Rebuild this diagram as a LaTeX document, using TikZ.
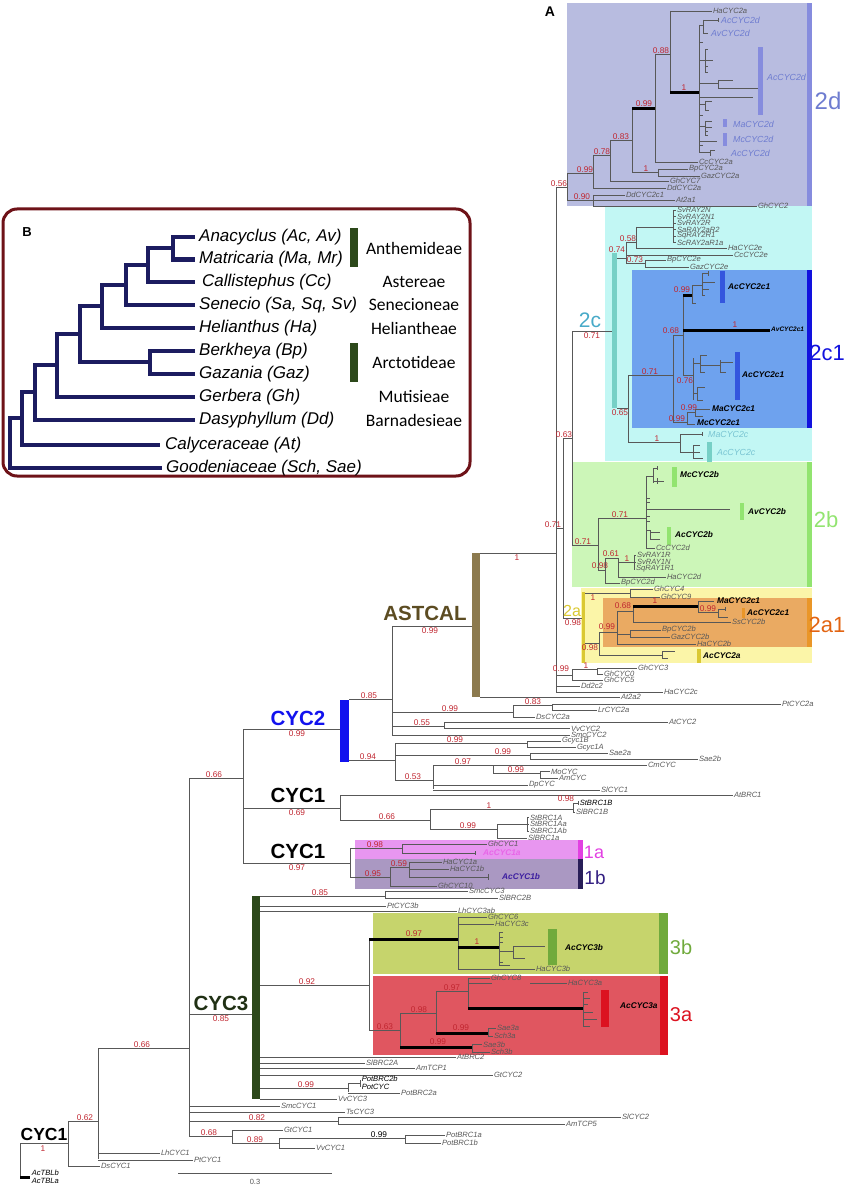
\documentclass[tikz,border=0pt]{standalone}
\usepackage{fontspec}
\setmainfont{Liberation Sans}
\newfontfamily\tribefont{Carlito}

\definecolor{ppred}{RGB}{192,38,48}
\definecolor{brgray}{RGB}{88,88,88}
\definecolor{c2d}{RGB}{184,188,224}
\definecolor{c2dbar}{RGB}{134,140,222}
\definecolor{c2dtext}{RGB}{110,124,208}
\definecolor{c2c}{RGB}{194,247,244}
\definecolor{c2cbar}{RGB}{118,208,198}
\definecolor{c2ctext}{RGB}{72,170,200}
\definecolor{c2cleaf}{RGB}{120,196,210}
\definecolor{c2ca}{RGB}{110,162,238}
\definecolor{c2cabar}{RGB}{18,18,222}
\definecolor{c2cinner}{RGB}{52,86,222}
\definecolor{c2b}{RGB}{204,246,184}
\definecolor{c2bbar}{RGB}{146,228,112}
\definecolor{c2a}{RGB}{251,245,168}
\definecolor{c2abar}{RGB}{218,200,50}
\definecolor{c2aa}{RGB}{234,170,98}
\definecolor{c2aabar}{RGB}{234,150,40}
\definecolor{c2aatext}{RGB}{226,100,18}
\definecolor{c1a}{RGB}{232,150,240}
\definecolor{c1abar}{RGB}{226,64,226}
\definecolor{c1b}{RGB}{170,152,194}
\definecolor{c1bbar}{RGB}{40,30,88}
\definecolor{c1btext}{RGB}{52,32,130}
\definecolor{c1bleaf}{RGB}{60,30,160}
\definecolor{c3b}{RGB}{198,212,108}
\definecolor{c3bbar}{RGB}{112,170,60}
\definecolor{c3a}{RGB}{224,86,96}
\definecolor{c3abar}{RGB}{220,18,32}
\definecolor{castcal}{RGB}{140,122,78}
\definecolor{castcaltext}{RGB}{92,76,34}
\definecolor{ccyc2}{RGB}{18,18,238}
\definecolor{ccyc3}{RGB}{44,72,26}
\definecolor{ccyc3text}{RGB}{32,48,20}
\definecolor{navy}{RGB}{28,28,96}
\definecolor{frame}{RGB}{110,18,24}

\tikzset{
    br/.style = {brgray, line width = 0.8pt},
    thk/.style = {black, line width = 3pt},
    leaf/.style = {anchor = west, inner sep = 0.6pt, font = \fontsize{7.6}{7}\selectfont\itshape},
    grp/.style = {anchor = west, inner sep = 0pt, font = \fontsize{8.3}{8}\selectfont\bfseries\itshape},
    grpl/.style = {anchor = west, inner sep = 0pt, font = \fontsize{8.8}{8}\selectfont\itshape},
    pp/.style = {text = ppred, inner sep = 0.6pt, font = \fontsize{8.3}{8}\selectfont},
    big/.style = {inner sep = 0pt, font = \fontsize{22}{22}\selectfont},
    clade/.style = {inner sep = 0pt, font = \fontsize{20.5}{21}\selectfont\bfseries},
    itree/.style = {navy, line width = 4.5pt},
    sp/.style = {anchor = west, inner sep = 0pt, font = \fontsize{17}{17}\selectfont\itshape},
    tribe/.style = {inner sep = 0pt, font = \fontsize{17.5}{18}\selectfont\tribefont},
}

\newcommand{\hbr}[3]{\draw [br] (#1, #3) -- (#2, #3);}
\newcommand{\vbr}[3]{\draw [br] (#1, #2) -- (#1, #3);}
\newcommand{\tbr}[3]{\draw [thk] (#1, #3) -- (#2, #3);}
\newcommand{\lfx}[4]{\draw [br] (#1, #3) -- (#2, #3) node [leaf] {#4};}
\newcommand{\pp}[3]{\node [pp, anchor = south] at (#1, #2) {#3};}
\newcommand{\ppb}[3]{\node [pp, anchor = north] at (#1, #2) {#3};}
\newcommand{\gbar}[5]{\fill [#1] (#2, #3) rectangle (#4, #5);}

\begin{document}
\begin{tikzpicture}[x = 1pt, y = -1pt]
    \useasboundingbox (0, 0) rectangle (844, 1190);

    % clade boxes
    \fill [c2d]  (567, 3)   rectangle (812, 206);
    \fill [c2c]  (605, 206) rectangle (812, 461);
    \fill [c2ca] (632, 270) rectangle (812, 428);
    \fill [c2b]  (572, 462) rectangle (812, 587);
    \fill [c2a]  (581, 588) rectangle (812, 663);
    \fill [c2aa] (603, 598) rectangle (812, 647);
    \fill [c1a]  (355, 840) rectangle (578, 859);
    \fill [c1b]  (355, 859) rectangle (578, 889);
    \fill [c3b]  (373, 913) rectangle (668, 974);
    \fill [c3a]  (373, 976) rectangle (668, 1055);

    % bars
    \gbar{c2dbar}{807}{3}{812}{206}
    \gbar{c2cabar}{807}{270}{812}{428}
    \gbar{c2bbar}{807}{462}{812}{587}
    \gbar{c2aabar}{807}{598}{812}{647}
    \gbar{c2cbar}{612}{253}{617}{408}
    \gbar{c2abar}{582}{592}{585}{663}
    \gbar{c1abar}{578}{840}{583}{859}
    \gbar{c1bbar}{578}{859}{583}{889}
    \gbar{c3bbar}{659}{913}{668}{974}
    \gbar{c3abar}{660}{976}{668}{1055}
    \gbar{castcal}{472}{553}{480}{697}
    \gbar{ccyc2}{340}{700}{349}{762}
    \gbar{ccyc3}{252}{896}{260}{1099}
    \gbar{c2dbar}{758}{47}{763}{115}
    \gbar{c2dbar}{723}{119}{727}{127}
    \gbar{c2dbar}{723}{133}{727}{146}
    \gbar{c2cinner}{720}{271}{725}{303}
    \gbar{c2cinner}{735}{352}{740}{400}
    \gbar{c2cbar}{707}{442}{712}{462}
    \gbar{c2bbar}{672}{467}{677}{487}
    \gbar{c2bbar}{740}{503}{744}{520}
    \gbar{c2bbar}{667}{527}{671}{545}
    \gbar{c2aabar}{742}{608}{745}{618}
    \gbar{c2abar}{697}{649}{701}{663}
    \gbar{c3bbar}{548}{929}{557}{965}
    \gbar{c3abar}{601}{990}{609}{1027}

    % root
    \vbr{20}{1143}{1177}
    \hbr{20}{68}{1143}
    \draw [thk] (20, 1177) -- (30, 1177);
    \node [leaf] at (31, 1173) {AcTBLb};
    \node [leaf] at (31, 1181) {AcTBLa};
    \ppb{43}{1145}{1}
    \node [clade, font = \fontsize{17.5}{18}\selectfont\bfseries] at (44, 1134) {CYC1};
    \vbr{68}{1121}{1166}
    \hbr{68}{98}{1121} \pp{85}{1121}{0.62}
    \lfx{68}{100}{1166}{DsCYC1}
    \vbr{98}{1048}{1159}
    \hbr{98}{189}{1048} \pp{142}{1048}{0.66}
    \lfx{98}{160}{1153}{LhCYC1}
    \lfx{98}{193}{1160}{PtCYC1}
    \vbr{189}{778}{1136}
    \hbr{189}{243}{778} \pp{214}{778}{0.66}
    \hbr{189}{252}{1014}
    \node [clade, text = ccyc3text] at (221, 1003) {CYC3};
    \ppb{221}{1015}{0.85}
    \lfx{189}{280}{1106}{SmcCYC1}
    \lfx{189}{345}{1112}{TsCYC3}
    \hbr{189}{338}{1121} \pp{257}{1121}{0.82}
    \vbr{338}{1117}{1124}
    \lfx{338}{621}{1117}{SlCYC2}
    \lfx{338}{565}{1124}{AmTCP5}
    \hbr{189}{232}{1136} \pp{209}{1136}{0.68}
    \vbr{232}{1130}{1143}
    \lfx{232}{283}{1130}{GtCYC1}
    \hbr{232}{279}{1143} \pp{255}{1143}{0.89}
    \vbr{279}{1138}{1148}
    \hbr{279}{405}{1138}
    \node [pp, anchor = south, text = black] at (379, 1138) {0.99};
    \vbr{405}{1135}{1143}
    \lfx{405}{445}{1135}{PotBRC1a}
    \lfx{405}{441}{1143}{PotBRC1b}
    \lfx{279}{315}{1148}{VvCYC1}
    \draw [br] (178, 1173) -- (332, 1173) node [midway, below = 3pt, font = \fontsize{7.5}{7}\selectfont] {0.3};

    % CYC3
    \hbr{260}{385}{896} \pp{320}{896}{0.85}
    \vbr{385}{892}{898}
    \lfx{385}{468}{891}{SmcCYC3}
    \lfx{385}{498}{898}{SlBRC2B}
    \lfx{260}{386}{906}{PtCYC3b}
    \lfx{260}{457}{911}{LhCYC3ab}
    \hbr{260}{369}{985} \pp{307}{985}{0.92}
    \vbr{369}{939}{1030}
    \tbr{369}{458}{939} \pp{414}{937}{0.97}
    \vbr{458}{917}{969}
    \lfx{458}{487}{917}{GhCYC6}
    \lfx{458}{494}{924}{HaCYC3c}
    \tbr{458}{499}{947} \pp{477}{945}{1}
    \vbr{499}{932}{965}
    \foreach \yy in {932, 937, 942, 962} {\hbr{499}{503}{\yy}}
    \hbr{499}{513}{951}
    \vbr{513}{946}{958}
    \hbr{513}{545}{946}
    \hbr{513}{525}{958}
    \hbr{499}{510}{965}
    \lfx{458}{535}{969}{HaCYC3b}
    \node [grp] at (565, 948) {AcCYC3b};
    \hbr{369}{400}{1030} \pp{385}{1030}{0.63}
    \vbr{400}{1013}{1047}
    \hbr{400}{436}{1013} \pp{419}{1013}{0.98}
    \vbr{436}{991}{1035}
    \hbr{436}{468}{991} \pp{452}{991}{0.97}
    \vbr{468}{978}{1008}
    \lfx{468}{490}{978}{GhCYC8}
    \lfx{530}{567}{983}{HaCYC3a}
    \hbr{468}{492}{983}
    \tbr{468}{583}{1008}
    \vbr{583}{992}{1026}
    \foreach \yy/\xx in {992/588, 998/590, 1004/588, 1012/593, 1019/597, 1026/590} {\hbr{583}{\xx}{\yy}}
    \node [grp] at (620, 1006) {AcCYC3a};
    \tbr{436}{488}{1033} \pp{461}{1031}{0.99}
    \vbr{488}{1028}{1036}
    \lfx{488}{496}{1028}{Sae3a}
    \lfx{488}{493}{1036}{Sch3a}
    \tbr{400}{472}{1047} \pp{438}{1045}{0.99}
    \vbr{472}{1044.5}{1052}
    \lfx{472}{482}{1044.5}{Sae3b}
    \lfx{472}{490}{1052}{Sch3b}
    \lfx{260}{456}{1057}{AtBRC2}
    \lfx{260}{365}{1063}{SlBRC2A}
    \lfx{260}{415}{1068}{AmTCP1}
    \lfx{260}{493}{1075}{GtCYC2}
    \hbr{260}{348}{1088} \pp{306}{1088}{0.99}
    \vbr{348}{1083}{1092}
    \hbr{348}{360}{1083}
    \vbr{360}{1080}{1087}
    \node [leaf] at (361, 1078.5) {PotBRC2b};
    \node [leaf] at (361, 1086.5) {PotCYC};
    \lfx{348}{400}{1093}{PotBRC2a}
    \lfx{260}{337}{1099}{VvCYC3}

    % CYC1 and CYC2
    \vbr{243}{729}{863}
    \hbr{243}{340}{729}
    \node [clade, text = ccyc2] at (298, 718) {CYC2};
    \ppb{297}{730}{0.99}
    \hbr{243}{340}{808}
    \node [clade] at (298, 795) {CYC1};
    \ppb{297}{809}{0.69}
    \vbr{340}{795}{820}
    \lfx{340}{733}{795}{AtBRC1}
    \hbr{340}{430}{820} \pp{387}{820}{0.66}
    \vbr{430}{809}{829}
    \hbr{430}{573}{809} \pp{489}{809}{1}
    \vbr{573}{803}{813}
    \hbr{573}{578}{803}
    \vbr{578}{801}{805}
    \node [leaf] at (579, 803) {StBRC1B};
    \lfx{573}{575}{812}{SlBRC1B}
    \pp{566}{802}{0.98}
    \hbr{430}{497}{829} \pp{468}{829}{0.99}
    \vbr{497}{824}{838}
    \hbr{497}{527}{824}
    \vbr{527}{818}{831}
    \lfx{527}{529}{817.5}{StBRC1A}
    \lfx{527}{529}{824}{StBRC1Aa}
    \lfx{527}{529}{831}{StBRC1Ab}
    \lfx{497}{527}{838}{SlBRC1a}
    \hbr{243}{350}{863}
    \node [clade] at (298, 851) {CYC1};
    \ppb{297}{864}{0.97}
    \vbr{350}{848}{877}
    \hbr{350}{402}{848} \pp{375}{848}{0.98}
    \vbr{402}{844}{853}
    \lfx{402}{487}{844}{GhCYC1}
    \hbr{402}{475}{853}
    \vbr{475}{851}{855}
    \node [grp, text = c1abar!80] at (483, 853) {AcCYC1a};
    \hbr{350}{390}{877} \pp{373}{877}{0.95}
    \vbr{390}{867}{886}
    \hbr{390}{409}{867} \pp{399}{867}{0.59}
    \vbr{409}{862}{877}
    \lfx{409}{442}{862}{HaCYC1a}
    \lfx{409}{449}{869}{HaCYC1b}
    \hbr{409}{488}{877}
    \vbr{488}{874}{880}
    \node [grp, text = c1bleaf] at (502, 877) {AcCYC1b};
    \lfx{390}{437}{886}{GhCYC10}
    \node [big, text = c1abar, font = \fontsize{18}{18}\selectfont] at (594, 852) {1a};
    \node [big, text = c1btext, font = \fontsize{19}{19}\selectfont] at (595, 878) {1b};

    % CYC2
    \hbr{349}{392}{699} \pp{369}{699}{0.85}
    \vbr{392}{626}{735}
    \hbr{392}{472}{626}
    \node [clade, text = castcaltext] at (425, 613) {ASTCAL};
    \ppb{430}{627}{0.99}
    \hbr{392}{513}{712} \pp{450}{712}{0.99}
    \vbr{513}{705}{717}
    \hbr{513}{552}{705} \pp{533}{705}{0.83}
    \vbr{552}{704}{710}
    \lfx{552}{781}{704}{PtCYC2a}
    \lfx{552}{597}{710}{LrCYC2a}
    \lfx{513}{535}{717}{DsCYC2a}
    \hbr{392}{444}{726} \pp{422}{726}{0.55}
    \vbr{444}{722}{729}
    \lfx{444}{668}{722}{AtCYC2}
    \lfx{444}{570}{728.5}{VvCYC2}
    \lfx{392}{570}{735}{SmcCYC2}
    \hbr{349}{395}{760} \pp{368}{760}{0.94}
    \vbr{395}{743}{780}
    \hbr{395}{527}{743} \pp{455}{743}{0.99}
    \vbr{527}{741}{747}
    \lfx{527}{561}{741}{Gcyc1B}
    \lfx{527}{576}{747.5}{Gcyc1A}
    \hbr{395}{530}{755} \pp{503}{755}{0.99}
    \vbr{530}{753}{759}
    \lfx{530}{608}{753}{Sae2a}
    \lfx{530}{698}{759}{Sae2b}
    \hbr{395}{433}{780} \pp{413}{780}{0.53}
    \vbr{433}{765}{789}
    \lfx{433}{647}{765}{CmCYC}
    \pp{463}{765}{0.97}
    \vbr{493}{765}{773}
    \hbr{493}{540}{773} \pp{516}{773}{0.99}
    \vbr{540}{772}{778}
    \lfx{540}{550}{771.5}{MoCYC}
    \lfx{540}{558}{778}{AmCYC}
    \lfx{433}{528}{785}{DpCYC}
    \lfx{433}{600}{790}{SlCYC1}

    % ASTCAL
    \hbr{480}{556}{553} \ppb{517}{554}{1}
    \lfx{480}{620}{697}{At2a2}
    \vbr{556}{187}{692}
    \hbr{556}{567}{187} \pp{559}{187}{0.56}
    \hbr{556}{563}{528} \pp{553}{528}{0.71}
    \vbr{563}{438}{618}
    \hbr{563}{572}{438} \pp{564}{438}{0.63}
    \vbr{572}{331}{545}
    \hbr{572}{612}{331}
    \node [big, text = c2ctext, font = \fontsize{21}{21}\selectfont] at (590, 320) {2c};
    \ppb{592}{332}{0.71}
    \hbr{572}{598}{545} \pp{583}{545}{0.71}
    \hbr{563}{582}{618}
    \node [big, text = c2abar, font = \fontsize{16}{16}\selectfont] at (572, 611) {2a};
    \ppb{573}{619}{0.98}
    \hbr{556}{572}{675} \pp{561}{672}{0.99}
    \vbr{572}{669}{680}
    \hbr{572}{597}{669} \pp{586}{669}{1}
    \vbr{597}{668}{674}
    \lfx{597}{637}{668}{GhCYC3}
    \lfx{597}{603}{674}{GhCYC0}
    \lfx{572}{603}{680}{GhCYC5}
    \lfx{556}{580}{686}{Dd2c2}
    \lfx{556}{663}{692}{HaCYC2c}

    % 2d
    \vbr{567}{173}{200}
    \hbr{567}{593}{173} \pp{585}{173}{0.99}
    \vbr{593}{155}{188}
    \hbr{593}{610}{155} \pp{602}{155}{0.78}
    \vbr{610}{140}{181}
    \hbr{610}{632}{140} \pp{621}{140}{0.83}
    \vbr{632}{109}{172}
    \tbr{632}{655}{109} \pp{644}{107}{0.99}
    \vbr{655}{54}{162}
    \hbr{655}{670}{54} \pp{661}{54}{0.88}
    \vbr{670}{11}{93}
    \lfx{670}{712}{11}{HaCYC2a}
    \tbr{670}{699}{93} \pp{684}{91}{1}
    \vbr{699}{25}{152}
    \hbr{699}{703}{25}
    \vbr{703}{20}{33}
    \hbr{703}{718}{20}
    \vbr{718}{18}{22}
    \hbr{703}{708}{33}
    \foreach \yy in {42, 115, 145} {\hbr{699}{703}{\yy}}
    \hbr{699}{705}{60}
    \vbr{705}{49}{72}
    \foreach \yy/\xx in {49/708, 60/713, 66/708, 72/708} {\hbr{705}{\xx}{\yy}}
    \hbr{699}{718}{83}
    \vbr{718}{80}{88}
    \hbr{718}{733}{80}
    \hbr{718}{758}{88}
    \hbr{699}{753}{97}
    \hbr{699}{705}{104}
    \vbr{705}{101}{110}
    \hbr{705}{712}{101}
    \hbr{705}{709}{110}
    \hbr{699}{705}{126}
    \vbr{705}{121}{135}
    \foreach \yy/\xx in {121/712, 127/712, 131/708, 135/708} {\hbr{705}{\xx}{\yy}}
    \hbr{699}{717}{141}
    \hbr{699}{710}{152}
    \vbr{710}{150}{156}
    \hbr{710}{715}{150}
    \node [grpl, text = c2dtext] at (721, 20) {AcCYC2d};
    \node [grpl, text = c2dtext] at (711, 33) {AvCYC2d};
    \node [grpl, text = c2dtext] at (767, 77) {AcCYC2d};
    \node [grpl, text = c2dtext] at (733, 124) {MaCYC2d};
    \node [grpl, text = c2dtext] at (733, 139) {McCYC2d};
    \node [grpl, text = c2dtext] at (731, 153) {AcCYC2d};
    \lfx{655}{698}{162}{CcCYC2a}
    \hbr{632}{658}{172} \pp{646}{172}{1}
    \vbr{658}{169}{176}
    \lfx{658}{688}{169}{BpCYC2a}
    \lfx{658}{700}{176}{GazCYC2a}
    \lfx{610}{669}{181}{GhCYC7}
    \lfx{593}{666}{188}{DdCYC2a}
    \hbr{567}{593}{200} \pp{582}{200}{0.90}
    \vbr{593}{195}{206}
    \lfx{593}{625}{195}{DdCYC2c1}
    \lfx{593}{675}{200}{At2a1}
    \lfx{593}{757}{206}{GhCYC2}
    \node [big, text = c2dtext, font = \fontsize{24}{24}\selectfont] at (828, 101) {2d};

    % 2c
    \hbr{617}{626}{258} \pp{617}{253}{0.74}
    \vbr{626}{242}{263}
    \hbr{626}{636}{242} \pp{628}{242}{0.58}
    \vbr{636}{227}{248}
    \hbr{636}{673}{227}
    \vbr{673}{210}{243}
    \lfx{673}{676}{210}{SvRAY2N}
    \lfx{673}{676}{216.5}{SvRAY2N1}
    \lfx{673}{676}{223}{SvRAY2R}
    \lfx{673}{676}{229.5}{SaRAY2aR2}
    \lfx{673}{676}{236}{SqRAY2R1}
    \lfx{673}{676}{242.5}{ScRAY2aR1a}
    \lfx{636}{727}{248}{HaCYC2e}
    \lfx{626}{733}{255}{CcCYC2e}
    \hbr{626}{645}{263} \pp{635}{263}{0.73}
    \vbr{645}{260}{267}
    \lfx{645}{666}{260}{BpCYC2e}
    \lfx{645}{689}{267}{GazCYC2e}
    \hbr{617}{628}{408} \ppb{620}{409}{0.65}
    \vbr{628}{375}{442}
    \hbr{628}{673}{375} \pp{650}{375}{0.71}
    \vbr{673}{335}{422}
    \hbr{673}{683}{335} \pp{671}{334}{0.68}
    \vbr{683}{295}{375}
    \tbr{683}{692}{295} \pp{682}{293}{0.99}
    \vbr{692}{285}{303}
    \hbr{692}{702}{285}
    \vbr{702}{273}{295}
    \foreach \yy/\xx in {273/708, 282/715, 289/709, 295/705} {\hbr{702}{\xx}{\yy}}
    \vbr{708}{271}{276}
    \hbr{692}{696}{303}
    \node [grp] at (728, 287) {AcCYC2c1};
    \tbr{683}{770}{330} \pp{735}{328}{1}
    \node [grp, font = \fontsize{6.5}{6}\selectfont\bfseries\itshape] at (771, 329) {AvCYC2c1};
    \hbr{683}{693}{375} \ppb{685}{377}{0.76}
    \vbr{693}{358}{400}
    \hbr{693}{700}{363}
    \vbr{700}{355}{372}
    \hbr{700}{707}{355}
    \hbr{700}{720}{365}
    \vbr{720}{360}{372}
    \hbr{720}{733}{362}
    \hbr{720}{726}{372}
    \hbr{700}{705}{372}
    \hbr{693}{697}{393}
    \vbr{697}{387}{400}
    \hbr{697}{705}{387}
    \hbr{697}{703}{400}
    \node [grp] at (742, 375) {AcCYC2c1};
    \hbr{673}{687}{422} \pp{677}{422}{0.99}
    \vbr{687}{412}{424}
    \hbr{687}{695}{412} \pp{689}{411}{0.99}
    \vbr{695}{409}{416}
    \hbr{695}{710}{409}
    \hbr{695}{703}{416}
    \hbr{687}{695}{424}
    \node [grp] at (712, 409) {MaCYC2c1};
    \node [grp] at (697, 423) {McCYC2c1};
    \hbr{628}{680}{442} \pp{657}{442}{1}
    \vbr{680}{434}{452}
    \hbr{680}{702}{434}
    \vbr{702}{432}{436}
    \node [grpl, text = c2cleaf] at (708, 434) {MaCYC2c};
    \hbr{680}{693}{452}
    \vbr{693}{445}{458}
    \foreach \yy/\xx in {445/700, 452/700, 458/703} {\hbr{693}{\xx}{\yy}}
    \node [grpl, text = c2cleaf] at (717, 452) {AcCYC2c};
    \node [big, text = c2cabar] at (827, 353) {2c1};

    % 2b
    \vbr{598}{518}{570}
    \hbr{598}{646}{518} \pp{620}{518}{0.71}
    \vbr{646}{476}{548}
    \hbr{646}{653}{476}
    \vbr{653}{468}{483}
    \hbr{653}{657}{468}
    \vbr{657}{466}{470}
    \hbr{653}{664}{481}
    \vbr{657}{478}{484}
    \node [grp] at (680, 475) {McCYC2b};
    \foreach \yy in {498, 502, 516, 521} {\hbr{646}{650}{\yy}}
    \hbr{646}{730}{509}
    \node [grp] at (748, 512) {AvCYC2b};
    \hbr{646}{650}{530}
    \vbr{650}{530}{539}
    \hbr{650}{660}{532}
    \hbr{650}{660}{539}
    \node [grp] at (675, 535) {AcCYC2b};
    \lfx{646}{655}{548}{CcCYC2d}
    \hbr{598}{605}{570} \pp{600}{569}{0.98}
    \vbr{605}{558}{583}
    \hbr{605}{618}{558} \pp{611}{557}{0.61}
    \vbr{618}{558}{577}
    \hbr{618}{634}{562} \pp{627}{562}{1}
    \vbr{634}{555}{569}
    \lfx{634}{636}{555}{SvRAY1R}
    \lfx{634}{636}{562}{SvRAY1N}
    \lfx{634}{635}{569}{SqRAY1R1}
    \lfx{618}{666}{577}{HaCYC2d}
    \lfx{605}{620}{583}{BpCYC2d}
    \node [big, text = c2bbar] at (826, 520) {2b};

    % 2a
    \hbr{585}{630}{593} \ppb{593}{594}{1}
    \vbr{630}{589}{597}
    \lfx{630}{653}{589}{GhCYC4}
    \lfx{630}{660}{597}{GhCYC9}
    \hbr{585}{599}{643} \ppb{590}{644}{0.98}
    \vbr{599}{632}{655}
    \hbr{599}{617}{632} \pp{607}{630}{0.99}
    \vbr{617}{611}{644}
    \hbr{617}{633}{611} \pp{623}{609}{0.68}
    \vbr{633}{606}{622}
    \tbr{633}{698}{606} \pp{655}{604}{1}
    \vbr{698}{601}{612}
    \hbr{698}{714}{601}
    \node [grp] at (717, 601) {MaCYC2c1};
    \hbr{698}{718}{612} \pp{708}{612}{0.99}
    \vbr{718}{609}{617}
    \hbr{718}{725}{609}
    \vbr{725}{607}{611}
    \hbr{718}{728}{617}
    \node [grp] at (747, 613) {AcCYC2c1};
    \lfx{633}{731}{622}{SsCYC2b}
    \hbr{617}{630}{634}
    \vbr{630}{630}{637}
    \lfx{630}{661}{630}{BpCYC2b}
    \lfx{630}{670}{637}{GazCYC2b}
    \lfx{617}{696}{644}{HaCYC2b}
    \hbr{599}{662}{655}
    \vbr{662}{651}{658}
    \hbr{662}{675}{651}
    \hbr{662}{668}{658}
    \node [grp] at (703, 656) {AcCYC2a};
    \node [big, text = c2aatext] at (827, 625) {2a1};
    \node [big, text = c3bbar, font = \fontsize{20}{20}\selectfont] at (681, 947) {3b};
    \node [big, text = c3abar, font = \fontsize{20}{20}\selectfont] at (681, 1015) {3a};
    \node [font = \fontsize{14}{14}\selectfont\bfseries] at (550, 12) {A};

    % inset B
    \draw [frame, line width = 3pt, rounded corners = 14pt] (3, 209) rectangle (470, 476);
    \node [font = \fontsize{13}{13}\selectfont\bfseries] at (27, 232) {B};
    \draw [itree] (195, 237) -| (173, 259.5) -- (195, 259.5);
    \draw [itree] (173, 248) -| (148, 282) -- (195, 282);
    \draw [itree] (148, 265) -| (126, 305) -- (195, 305);
    \draw [itree] (126, 285) -| (102, 328) -- (195, 328);
    \draw [itree] (195, 351) -| (150, 374) -- (195, 374);
    \draw [itree] (102, 306) -| (80, 362) -- (150, 362);
    \draw [itree] (80, 334) -| (57, 397) -- (195, 397);
    \draw [itree] (57, 365) -| (35, 420) -- (195, 420);
    \draw [itree] (35, 392) -| (22, 445) -- (160, 445);
    \draw [itree] (22, 418) -| (10, 468) -- (162, 468);
    \node [sp] (ana) at (199, 237) {Anacyclus (Ac, Av)};
    \node [sp] (mat) at (199, 259.5) {Matricaria (Ma, Mr)};
    \node [sp] (cal) at (202, 282) {Callistephus (Cc)};
    \node [sp] (sen) at (199, 305) {Senecio (Sa, Sq, Sv)};
    \node [sp] (hel) at (199, 328) {Helianthus (Ha)};
    \node [sp] (ber) at (199, 351) {Berkheya (Bp)};
    \node [sp] (gaz) at (199, 374) {Gazania (Gaz)};
    \node [sp] (ger) at (199, 397) {Gerbera (Gh)};
    \node [sp] (das) at (199, 420) {Dasyphyllum (Dd)};
    \node [sp] (cly) at (165, 445) {Calyceraceae (At)};
    \node [sp] (goo) at (166, 468) {Goodeniaceae (Sch, Sae)};
    \fill [ccyc3] (350, 228) rectangle (358, 267);
    \fill [ccyc3] (350, 343) rectangle (358, 382);
    \node [tribe] at (414, 248) {Anthemideae};
    \node [tribe] at (414, 282) {Astereae};
    \node [tribe] at (414, 305) {Senecioneae};
    \node [tribe] at (414, 328) {Heliantheae};
    \node [tribe] at (414, 362) {Arctotideae};
    \node [tribe] at (414, 397) {Mutisieae};
    \node [tribe] at (414, 420) {Barnadesieae};
\end{tikzpicture}
\end{document}
